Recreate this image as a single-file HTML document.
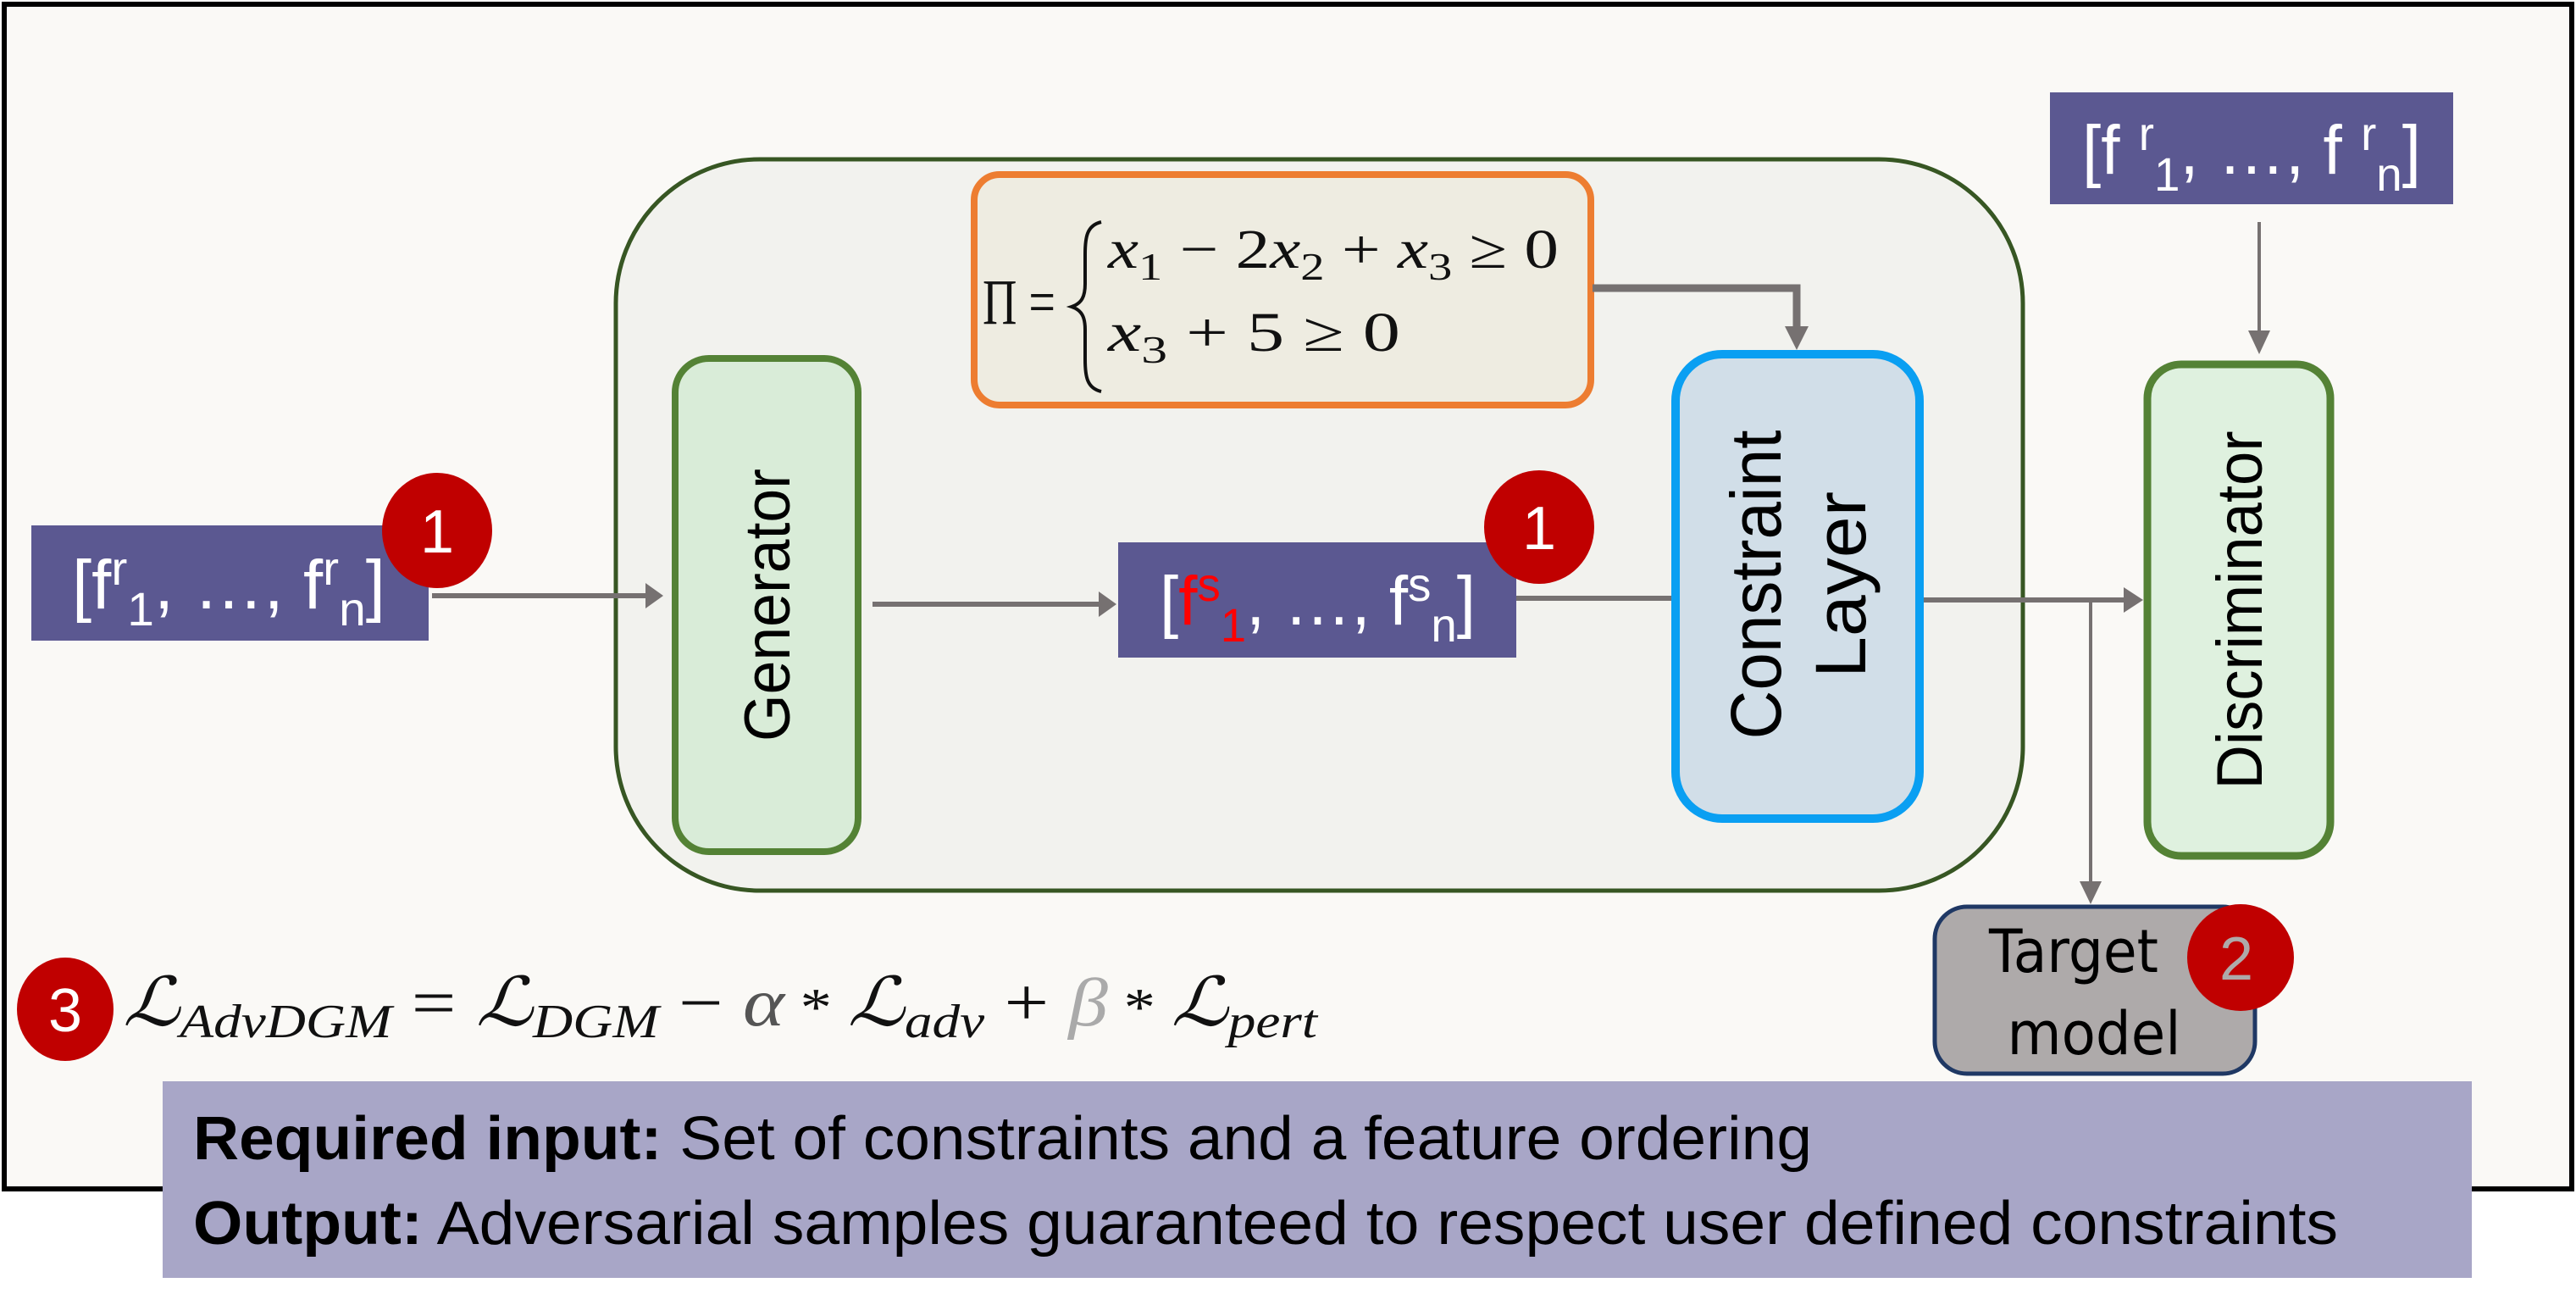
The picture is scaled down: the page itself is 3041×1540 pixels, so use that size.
<!DOCTYPE html>
<html><head><meta charset="utf-8"><style>
html,body{margin:0;padding:0;background:#fff;}
svg{display:block;}
text{font-family:"Liberation Sans",sans-serif;}
.m{font-family:"Liberation Serif",serif;}
</style></head><body>
<svg width="3041" height="1540" viewBox="0 0 3041 1540" xmlns="http://www.w3.org/2000/svg">
<rect x="0" y="0" width="3041" height="1540" fill="#ffffff"/>
<rect x="5" y="5" width="3031" height="1398" fill="#faf9f6" stroke="#000" stroke-width="6"/>

<!-- container -->
<rect x="727" y="188" width="1661" height="863" rx="170" fill="#f2f2ee" stroke="#375623" stroke-width="5"/>

<!-- orange box -->
<rect x="1150" y="206" width="728" height="272" rx="30" fill="#eeece1" stroke="#ed7d31" stroke-width="8"/>
<text class="m" x="1160" y="382" font-size="76" fill="#111" textLength="86" lengthAdjust="spacingAndGlyphs">Π =</text>
<path d="M1300,262 C1283,266 1281,280 1281,300 L1281,335 C1281,350 1277,358 1265,362 C1277,366 1281,374 1281,389 L1281,424 C1281,444 1283,458 1300,462" fill="none" stroke="#111" stroke-width="4"/>
<text class="m" x="1308" y="316" font-size="66" font-style="italic" fill="#111" textLength="532" lengthAdjust="spacingAndGlyphs">x<tspan font-size="46" dy="14" font-style="normal">1</tspan><tspan dy="-14" font-style="normal"> − 2</tspan>x<tspan font-size="46" dy="14" font-style="normal">2</tspan><tspan dy="-14" font-style="normal"> + </tspan>x<tspan font-size="46" dy="14" font-style="normal">3</tspan><tspan dy="-14" font-style="normal"> ≥ 0</tspan></text>
<text class="m" x="1308" y="414" font-size="66" font-style="italic" fill="#111" textLength="345" lengthAdjust="spacingAndGlyphs">x<tspan font-size="46" dy="14" font-style="normal">3</tspan><tspan dy="-14" font-style="normal"> + 5 ≥ 0</tspan></text>

<!-- connectors -->
<g stroke="#767171" fill="none">
<polyline points="1880,340 2121,340 2121,385" stroke-width="9"/>
<line x1="510" y1="703" x2="765" y2="703" stroke-width="6"/>
<line x1="1030" y1="713" x2="1300" y2="713" stroke-width="6"/>
<line x1="1790" y1="706" x2="1976" y2="706" stroke-width="6"/>
<line x1="2270" y1="708" x2="2510" y2="708" stroke-width="6"/>
<line x1="2468" y1="710" x2="2468" y2="1040" stroke-width="4"/>
<line x1="2667" y1="262" x2="2667" y2="395" stroke-width="4"/>
</g>
<g fill="#767171">
<polygon points="2107,385 2135,385 2121,413"/>
<polygon points="762,688 762,718 783,703"/>
<polygon points="1297,698 1297,728 1318,713"/>
<polygon points="2507,693 2507,723 2530,708"/>
<polygon points="2455,1040 2481,1040 2468,1067"/>
<polygon points="2654,390 2680,390 2667,418"/>
</g>

<!-- generator -->
<rect x="797" y="423" width="216" height="582" rx="40" fill="#d9ecd8" stroke="#548235" stroke-width="8"/>
<text font-size="76" fill="#000" text-anchor="middle" transform="translate(932,714) rotate(-90)" textLength="322" lengthAdjust="spacingAndGlyphs">Generator</text>

<!-- constraint layer -->
<rect x="1978" y="418" width="288" height="548" rx="55" fill="#d1dee8" stroke="#0a9ff2" stroke-width="10"/>
<text font-size="84" fill="#000" text-anchor="middle" transform="translate(2102,690) rotate(-90)" textLength="365" lengthAdjust="spacingAndGlyphs">Constraint</text>
<text font-size="84" fill="#000" text-anchor="middle" transform="translate(2202,690) rotate(-90)" textLength="220" lengthAdjust="spacingAndGlyphs">Layer</text>

<!-- discriminator -->
<rect x="2535" y="430" width="216" height="580" rx="40" fill="#dff1df" stroke="#548235" stroke-width="9"/>
<text font-size="76" fill="#000" text-anchor="middle" transform="translate(2670,720) rotate(-90)" textLength="423" lengthAdjust="spacingAndGlyphs">Discriminator</text>

<!-- target model -->
<rect x="2284" y="1070" width="378" height="197" rx="38" fill="#aeaaaa" stroke="#1f3864" stroke-width="5"/>
<text x="2448" y="1147" font-size="70" fill="#000" text-anchor="middle" style="font-family:'DejaVu Sans',sans-serif" textLength="200" lengthAdjust="spacingAndGlyphs">Target</text>
<text x="2472" y="1244" font-size="70" fill="#000" text-anchor="middle" style="font-family:'DejaVu Sans',sans-serif" textLength="205" lengthAdjust="spacingAndGlyphs">model</text>

<!-- purple boxes -->
<rect x="37" y="620" width="469" height="136" fill="#5b5891"/>
<text x="85" y="718" font-size="82" fill="#fff" textLength="370" lengthAdjust="spacingAndGlyphs">[f<tspan font-size="56" dy="-28">r</tspan><tspan font-size="56" dy="48">1</tspan><tspan dy="-20">, …, f</tspan><tspan font-size="56" dy="-28">r</tspan><tspan font-size="56" dy="48">n</tspan><tspan dy="-20">]</tspan></text>

<rect x="1320" y="640" width="470" height="136" fill="#5b5891"/>
<text x="1369" y="737" font-size="82" fill="#fff" textLength="373" lengthAdjust="spacingAndGlyphs">[<tspan fill="#ff0000">f</tspan><tspan fill="#ff0000" font-size="56" dy="-28">s</tspan><tspan fill="#ff0000" font-size="56" dy="48">1</tspan><tspan dy="-20">, …, f</tspan><tspan font-size="56" dy="-28">s</tspan><tspan font-size="56" dy="48">n</tspan><tspan dy="-20">]</tspan></text>

<rect x="2420" y="109" width="476" height="132" fill="#5b5891"/>
<text x="2458" y="205" font-size="82" fill="#fff" textLength="400" lengthAdjust="spacingAndGlyphs">[f <tspan font-size="56" dy="-28">r</tspan><tspan font-size="56" dy="48">1</tspan><tspan dy="-20">, …, f </tspan><tspan font-size="56" dy="-28">r</tspan><tspan font-size="56" dy="48">n</tspan><tspan dy="-20">]</tspan></text>

<!-- red badges -->
<g fill="#c00000">
<ellipse cx="516" cy="626" rx="65" ry="68"/>
<ellipse cx="1817" cy="622" rx="65" ry="67"/>
<ellipse cx="2645" cy="1130" rx="63" ry="63"/>
<ellipse cx="77" cy="1191" rx="57" ry="61"/>
</g>
<text x="516" y="652" font-size="72" fill="#fff" text-anchor="middle">1</text>
<text x="1817" y="648" font-size="72" fill="#fff" text-anchor="middle">1</text>
<text x="2640" y="1156" font-size="72" fill="#aeaaaa" text-anchor="middle">2</text>
<text x="77" y="1217" font-size="72" fill="#fff" text-anchor="middle">3</text>

<!-- formula -->
<text class="m" x="145" y="1210" font-size="80" font-style="italic" fill="#111" textLength="1410" lengthAdjust="spacingAndGlyphs">ℒ<tspan font-size="56" dy="14">AdvDGM</tspan><tspan dy="-14" font-style="normal"> = </tspan>ℒ<tspan font-size="56" dy="14">DGM</tspan><tspan dy="-14" font-style="normal"> − </tspan><tspan fill="#555">α</tspan><tspan font-style="normal" font-size="64"> * </tspan>ℒ<tspan font-size="56" dy="14">adv</tspan><tspan dy="-14" font-style="normal"> + </tspan><tspan fill="#aaa">β</tspan><tspan font-style="normal" font-size="64"> * </tspan>ℒ<tspan font-size="56" dy="14">pert</tspan></text>

<!-- banner -->
<rect x="192" y="1276" width="2726" height="232" fill="#a8a6c7"/>
<text x="228" y="1368" font-size="72" fill="#000" textLength="1911" lengthAdjust="spacingAndGlyphs"><tspan font-weight="bold">Required input:</tspan>  Set of constraints and a feature ordering</text>
<text x="228" y="1468" font-size="72" fill="#000" textLength="2532" lengthAdjust="spacingAndGlyphs"><tspan font-weight="bold">Output:</tspan> Adversarial samples guaranteed to respect user defined constraints</text>
</svg>
</body></html>
